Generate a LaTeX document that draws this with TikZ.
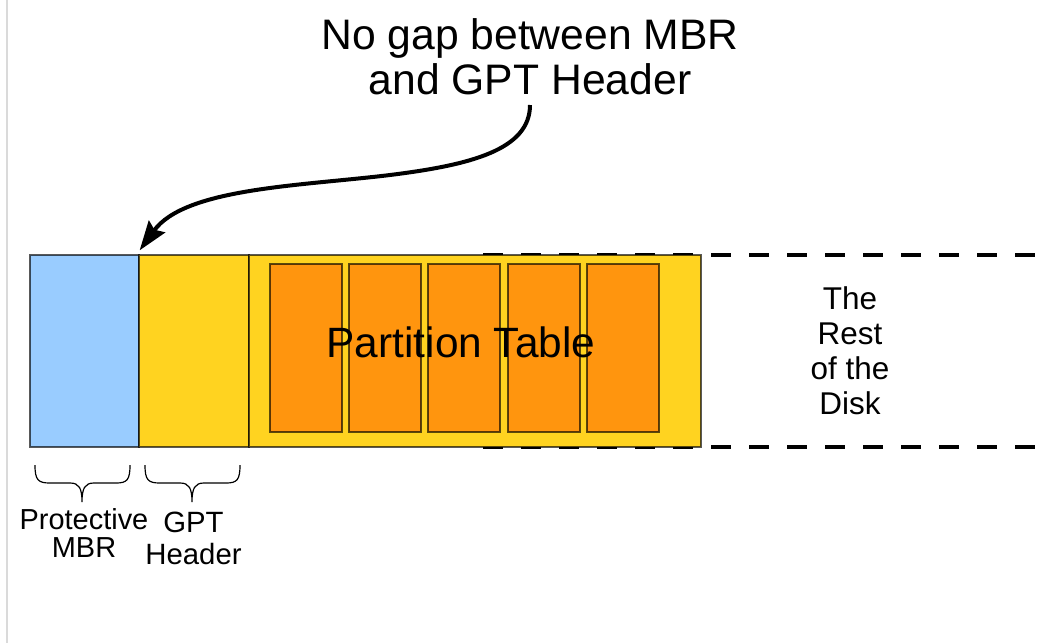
\documentclass[tikz,border=0pt]{standalone}
\usepackage{fontspec}
\setmainfont{Liberation Sans}
\usetikzlibrary{arrows.meta,calc}

\definecolor{mbrblue}{HTML}{99CCFF}
\definecolor{hdryellow}{HTML}{FFD320}
\definecolor{entryorange}{HTML}{FF950E}
\definecolor{pageedge}{HTML}{DADADA}

\tikzset{
  block/.style={draw=black, draw opacity=0.65, line width=1pt, inner sep=0pt,
                minimum height=144pt},
  entry/.style={draw=black, draw opacity=0.65, line width=0.9pt, inner sep=0pt,
                fill=entryorange, minimum width=54pt, minimum height=126pt},
  dashline/.style={line width=2.4pt, dash pattern=on 15pt off 13.5pt},
  bracecurve/.style={line width=0.9pt, black},
  pointer/.style={line width=3pt, -{Stealth[length=22pt,width=15pt,inset=3pt]}},
  lbl/.style={inner sep=0pt, align=center}
}

\begin{document}
\begin{tikzpicture}[x=0.75pt, y=-0.75pt]
  \useasboundingbox (0,0) rectangle (1049,643);
  \fill[white] (0,0) rectangle (1049,643);

  % page edge on the left
  \draw[pageedge, line width=1.5pt] (7,0) -- (7,643);

  % the unallocated rest of the disk
  \coordinate (restTL) at (483,255);
  \coordinate (restTR) at (1049,255);
  \coordinate (restBL) at (483,447);
  \coordinate (restBR) at (1049,447);
  \draw[dashline] (restTL) -- (restTR);
  \draw[dashline] (restBL) -- (restBR);

  % disk layout blocks
  \node[block, fill=mbrblue, minimum width=81.75pt] (mbr) at (84.5,351) {};
  \node[block, fill=hdryellow, minimum width=82.5pt] (hdr) at (194,351) {};
  \node[block, fill=hdryellow, minimum width=339pt] (ptab) at (475,351) {};

  % partition entries
  \node[entry] (e1) at (306,348) {};
  \node[entry] (e2) at (385,348) {};
  \node[entry] (e3) at (464,348) {};
  \node[entry] (e4) at (544,348) {};
  \node[entry] (e5) at (623,348) {};

  \node[lbl, font=\fontsize{31.8}{33}\selectfont] (ptlabel) at (461,342) {Partition Table};

  \node[lbl, font=\fontsize{23.6}{26.25}\selectfont] (rest) at (850,351)
    {The\\Rest\\of the\\Disk};

  % caption with pointer to the MBR / header boundary
  \node[lbl, font=\fontsize{32}{33.75}\selectfont] (title) at (530,57)
    {No gap between MBR\\and GPT Header};
  \coordinate (arrowstart) at (530,105);
  \coordinate (arrowtip) at ($(mbr.north east)+(0,-4)$);
  \draw[pointer] (arrowstart) .. controls (530,150) and (470,165) .. (390,175)
                 .. controls (300,186) and (185,188) .. (arrowtip);

  % braces under the first two blocks
  \draw[bracecurve] (35,465) .. controls (35,480) and (38,483) .. (50,483) -- (70,483)
    .. controls (79,483) and (82,488) .. (82,502)
    .. controls (82,488) and (85,483) .. (94,483) -- (116,483)
    .. controls (127,483) and (130,480) .. (130,465);
  \draw[bracecurve] (145,465) .. controls (145,480) and (148,483) .. (160,483) -- (180,483)
    .. controls (189,483) and (192,488) .. (192,502)
    .. controls (192,488) and (195,483) .. (204,483) -- (226,483)
    .. controls (237,483) and (240,480) .. (240,465);

  \node[lbl, font=\fontsize{21.7}{21}\selectfont] (mbrlabel) at (84,533.5)
    {Protective\\MBR};
  \node[lbl, font=\fontsize{22}{24}\selectfont] (hdrlabel) at (193.5,538)
    {GPT\\Header};
\end{tikzpicture}
\end{document}
